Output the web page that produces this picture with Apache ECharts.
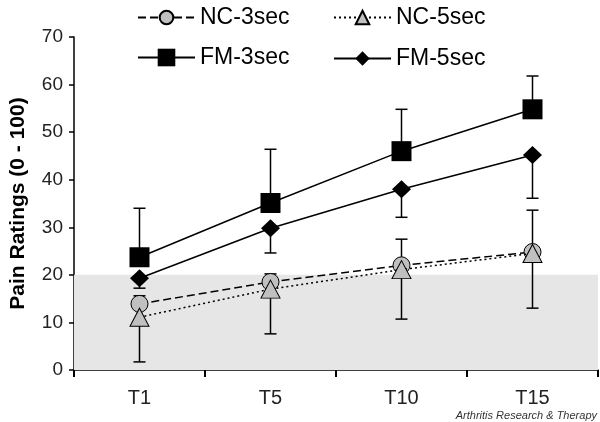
<!DOCTYPE html>
<html>
<head>
<meta charset="utf-8">
<script src="https://cdn.jsdelivr.net/npm/echarts@6/dist/echarts.min.js"></script>
<style>
  html, body { margin: 0; padding: 0; background: #fff; }
  #chart { width: 600px; height: 422px; }
</style>
</head>
<body>
<div id="chart"></div>
<script>
// time points
const categories = ['T1', 'T5', 'T10', 'T15'];

// mean pain ratings
const nc3 = [13.9, 18.5, 22.0, 24.8];
const nc5 = [11.1, 17.0, 21.1, 24.5];
const fm3 = [23.7, 35.1, 46.0, 54.8];
const fm5 = [19.3, 29.8, 38.0, 45.2];

// error bar end points (one-sided bars)
const nc3End = [15.6, 20.2, 27.5, 33.6];
const nc5End = [1.7, 7.6, 10.7, 13.0];
const fm3End = [34.0, 46.4, 54.8, 61.8];
const fm5End = [17.2, 24.6, 32.1, 36.1];

const yTicks = [0, 10, 20, 30, 40, 50, 60, 70];

const FONT = 'Liberation Sans, Arial, Helvetica, sans-serif';

const chart = echarts.init(document.getElementById('chart'));

// vertical whisker from the mean to the end point, with a cap
function errorBar(name, means, ends) {
  return {
    type: 'custom',
    name: name + ' err',
    z: 1,
    silent: true,
    data: means.map((m, i) => [i, m, ends[i]]),
    encode: { x: 0, y: [1, 2] },
    renderItem: (params, api) => {
      const p0 = api.coord([api.value(0), api.value(1)]);
      const p1 = api.coord([api.value(0), api.value(2)]);
      return {
        type: 'group',
        children: [
          { type: 'line', shape: { x1: p0[0], y1: p0[1], x2: p1[0], y2: p1[1] },
            style: { stroke: '#000', lineWidth: 1.5 } },
          { type: 'line', shape: { x1: p1[0] - 6, y1: p1[1], x2: p1[0] + 6, y2: p1[1] },
            style: { stroke: '#000', lineWidth: 1.5 } }
        ]
      };
    }
  };
}

function legendItem(name, left, top, h) {
  return {
    data: [name],
    left: left,
    top: top,
    padding: 0,
    itemWidth: 57,
    itemHeight: h,
    itemGap: 0,
    selectedMode: false,
    textStyle: { fontFamily: FONT, fontSize: 23, color: '#000' }
  };
}

const option = {
  animation: false,
  backgroundColor: '#fff',
  grid: { left: 74, right: 2, top: 37, bottom: 52, containLabel: false, outerBoundsMode: 'none' },
  legend: [
    legendItem('NC-3sec', 137, 6, 17),
    legendItem('NC-5sec', 333, 6, 17),
    legendItem('FM-3sec', 137, 46, 22),
    legendItem('FM-5sec', 333, 47, 18)
  ],
  xAxis: {
    type: 'category',
    data: categories,
    boundaryGap: true,
    axisLine: { lineStyle: { color: '#000', width: 1.5 } },
    axisTick: { show: true, alignWithLabel: false, interval: 0, length: 7, lineStyle: { color: '#000', width: 2 } },
    axisLabel: { fontFamily: FONT, fontSize: 20, color: '#222', margin: 18 },
    splitLine: { show: false }
  },
  yAxis: {
    type: 'value',
    min: yTicks[0],
    max: yTicks[yTicks.length - 1],
    interval: 10,
    name: 'Pain Ratings (0 - 100)',
    nameLocation: 'middle',
    nameRotate: 90,
    nameGap: 45,
    nameTextStyle: { fontFamily: FONT, fontSize: 21, fontWeight: 'bold', color: '#000' },
    axisLine: { show: true, lineStyle: { color: '#000', width: 1.5 } },
    axisTick: { show: true, length: 5, lineStyle: { color: '#000', width: 1.5 } },
    axisLabel: { fontFamily: FONT, fontSize: 19, color: '#222', margin: 11 },
    splitLine: { show: false }
  },
  graphic: [
    {
      type: 'text',
      right: 3,
      top: 410,
      style: {
        text: 'Arthritis Research & Therapy',
        font: 'italic 11px ' + FONT,
        fill: '#333'
      }
    }
  ],
  series: [
    {
      // shaded band 0 - 20
      type: 'line',
      name: 'band',
      z: 0,
      data: [],
      silent: true,
      markArea: {
        silent: true,
        itemStyle: { color: '#e6e6e6' },
        data: [[{ yAxis: 0 }, { yAxis: 20 }]]
      }
    },
    errorBar('NC-3sec', nc3, nc3End),
    errorBar('NC-5sec', nc5, nc5End),
    errorBar('FM-3sec', fm3, fm3End),
    errorBar('FM-5sec', fm5, fm5End),
    {
      name: 'NC-3sec',
      type: 'line',
      data: nc3,
      symbol: 'circle',
      symbolSize: 17,
      z: 3,
      lineStyle: { color: '#000', width: 1.5, type: [8, 4] },
      itemStyle: { color: '#c0c0c0', borderColor: '#000', borderWidth: 1 }
    },
    {
      name: 'NC-5sec',
      type: 'line',
      data: nc5,
      symbol: 'triangle',
      symbolSize: [19, 18],
      z: 4,
      lineStyle: { color: '#000', width: 1.5, type: [2, 3] },
      itemStyle: { color: '#c0c0c0', borderColor: '#000', borderWidth: 1 }
    },
    {
      name: 'FM-3sec',
      type: 'line',
      data: fm3,
      symbol: 'rect',
      symbolSize: 20,
      z: 3,
      lineStyle: { color: '#000', width: 1.5 },
      itemStyle: { color: '#000' }
    },
    {
      name: 'FM-5sec',
      type: 'line',
      data: fm5,
      symbol: 'diamond',
      symbolSize: [19, 18],
      z: 3,
      lineStyle: { color: '#000', width: 1.5 },
      itemStyle: { color: '#000' }
    }
  ]
};

chart.setOption(option);
</script>
</body>
</html>
